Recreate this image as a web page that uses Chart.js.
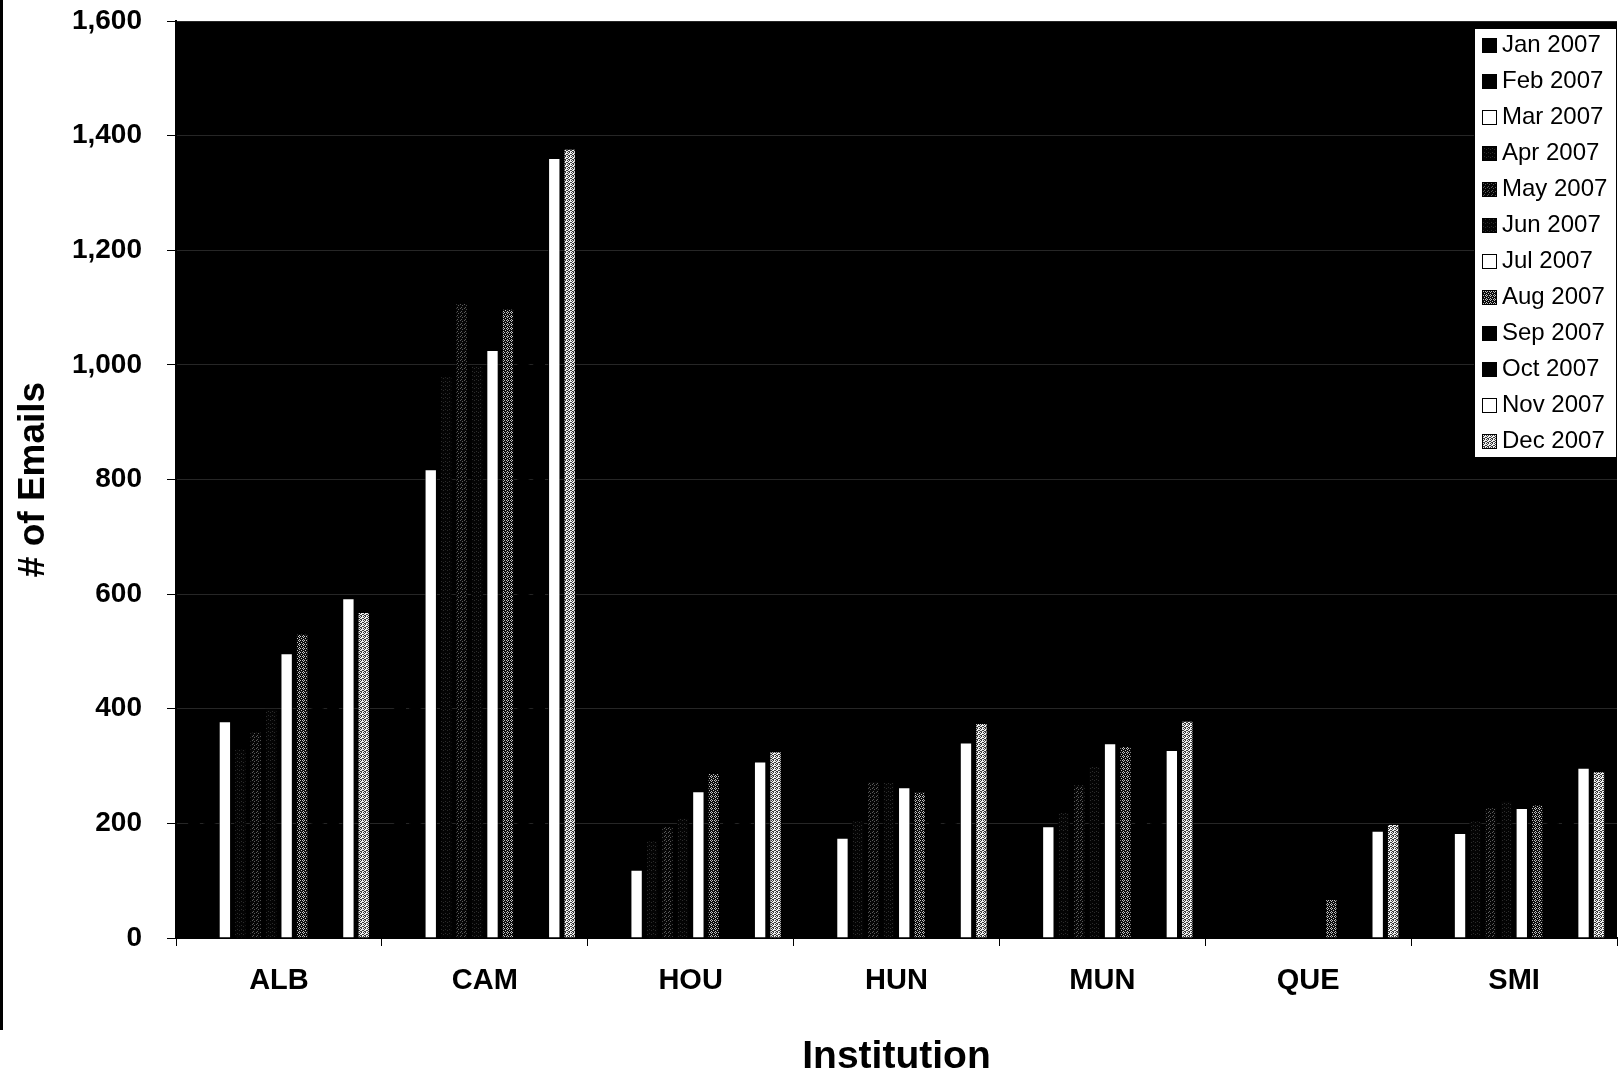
<!DOCTYPE html>
<html>
<head>
<meta charset="utf-8">
<script src="https://cdn.jsdelivr.net/npm/chart.js@4.4.1/dist/chart.umd.min.js"></script>
<style>
    body { margin: 0; background: #fff; }
    #wrap { position: relative; width: 1621px; height: 1077px; }
    #edge { position: absolute; left: 0; top: 0; width: 3px; height: 1030px; background: #000; }
    #legend {
        position: absolute; left: 1474px; top: 28px; width: 143px; height: 430px;
        background: #fff; border: 1px solid #000; box-sizing: border-box;
        font-family: "Liberation Sans", Arial, sans-serif; font-size: 24px; color: #000;
    }
    #legend div { position: absolute; left: 7px; height: 36px; line-height: 36px; white-space: nowrap; }
    #legend span {
        display: inline-block; width: 13px; height: 13px; border: 1px solid #000;
        margin-right: 5px; vertical-align: -1px;
    }
</style>
</head>
<body>
<div id="wrap">
    <canvas id="emailChart" width="1621" height="1077"></canvas>
    <div id="edge"></div>
    <div id="legend"></div>
</div>
<script>
const institutions = ["ALB", "CAM", "HOU", "HUN", "MUN", "QUE", "SMI"];
const months = ["Jan 2007", "Feb 2007", "Mar 2007", "Apr 2007", "May 2007", "Jun 2007",
                "Jul 2007", "Aug 2007", "Sep 2007", "Oct 2007", "Nov 2007", "Dec 2007"];
const yTicks = [0, 200, 400, 600, 800, 1000, 1200, 1400, 1600];

const jan = [264, 480, 140, 115, 122, 0, 144];
const feb = [286, 560, 150, 142, 148, 0, 166];
const mar = [378, 818, 119, 175, 195, 0, 183];
const apr = [330, 980, 170, 205, 220, 0, 205];
const may = [360, 1108, 195, 274, 268, 0, 228];
const jun = [400, 1000, 210, 272, 300, 0, 240];
const jul = [497, 1026, 256, 263, 340, 0, 227];
const aug = [531, 1098, 288, 255, 335, 68, 233];
const sep = [525, 1052, 296, 270, 285, 128, 275];
const oct = [560, 1190, 280, 268, 300, 175, 268];
const nov = [593, 1361, 308, 341, 328, 187, 297];
const dec = [569, 1377, 326, 375, 379, 199, 291];

const series = [jan, feb, mar, apr, may, jun, jul, aug, sep, oct, nov, dec];

const FONT = "'Liberation Sans', Arial, sans-serif";

// little speckle tiles to imitate the scanned hatch fills
function speckle(base, dot, cells) {
    const c = document.createElement("canvas");
    c.width = 4;
    c.height = 4;
    const g = c.getContext("2d");
    g.fillStyle = base;
    g.fillRect(0, 0, 4, 4);
    g.fillStyle = dot;
    cells.forEach(p => g.fillRect(p[0], p[1], 1, 1));
    return c;
}

const tiles = {
    apr: speckle("#040404", "#2c2c2c", [[1, 1], [3, 2]]),
    may: speckle("#060606", "#5a5a5a", [[0, 0], [2, 1], [1, 3]]),
    jun: speckle("#040404", "#2c2c2c", [[2, 0], [0, 3]]),
    aug: speckle("#0c0c0c", "#c4c4c4", [[0, 0], [2, 0], [1, 2], [3, 1], [3, 3]]),
    dec: speckle("#f0f0f0", "#3a3a3a", [[1, 0], [3, 0], [0, 1], [2, 2], [1, 3], [3, 2], [0, 3]])
};
const tileKeys = ["", "", "", "apr", "may", "jun", "", "aug", "", "", "", "dec"];
const plain = ["#000", "#000", "#fff", "", "", "", "#fff", "", "#000", "#000", "#fff", ""];

const ctx = document.getElementById("emailChart");
const g2d = ctx.getContext("2d");

function fill(i) {
    if (tileKeys[i]) return g2d.createPattern(tiles[tileKeys[i]], "repeat");
    return plain[i];
}

const plotBg = {
    id: "plotBg",
    beforeDraw(chart) {
        const a = chart.chartArea;
        const c = chart.ctx;
        c.save();
        c.fillStyle = "#000";
        c.fillRect(a.left, a.top, a.right - a.left, a.bottom - a.top);
        c.restore();
    }
};

const chart = new Chart(ctx, {
    type: "bar",
    data: {
        labels: institutions,
        datasets: months.map((m, i) => ({
            label: m,
            data: series[i],
            backgroundColor: fill(i),
            borderColor: "#000",
            borderWidth: 1,
            categoryPercentage: 0.9,
            barPercentage: 0.8
        }))
    },
    options: {
        responsive: false,
        animation: false,
        layout: { padding: { top: 21, right: 4, left: 0, bottom: 0 } },
        plugins: {
            legend: { display: false },
            tooltip: { enabled: false }
        },
        scales: {
            x: {
                afterFit: s => { s.height = 139; },
                grid: { offset: true, drawOnChartArea: false, tickLength: 8, tickColor: "#000" },
                border: { color: "#000", width: 2 },
                ticks: {
                    color: "#000",
                    font: { family: FONT, size: 29, weight: "bold" },
                    padding: 18,
                    maxRotation: 0
                },
                title: {
                    display: true,
                    text: "Institution",
                    color: "#000",
                    font: { family: FONT, size: 39, weight: "bold" },
                    padding: { top: 0, bottom: -4 }
                }
            },
            y: {
                min: 0,
                max: 1600,
                afterFit: s => {
                    s.width = 176;
                    s.paddingTop = 0;
                    s.paddingBottom = 0;
                },
                afterBuildTicks: s => { s.ticks = yTicks.map(v => ({ value: v })); },
                grid: { color: "#262626", tickColor: "#000", tickLength: 9 },
                border: { color: "#000", width: 2 },
                ticks: {
                    color: "#000",
                    font: { family: FONT, size: 28, weight: "bold" },
                    padding: 25,
                    callback: v => v.toLocaleString("en-US")
                },
                title: {
                    display: true,
                    text: "# of Emails",
                    color: "#000",
                    font: { family: FONT, size: 37, weight: "bold" },
                    padding: { top: 12, bottom: 0 }
                }
            }
        }
    },
    plugins: [plotBg]
});

const legend = document.getElementById("legend");
months.forEach((m, i) => {
    const row = document.createElement("div");
    row.style.top = (i * 36 - 3) + "px";
    const sw = document.createElement("span");
    if (tileKeys[i]) sw.style.backgroundImage = "url(" + tiles[tileKeys[i]].toDataURL() + ")";
    else sw.style.background = plain[i];
    row.appendChild(sw);
    row.appendChild(document.createTextNode(m));
    legend.appendChild(row);
});
</script>
</body>
</html>
